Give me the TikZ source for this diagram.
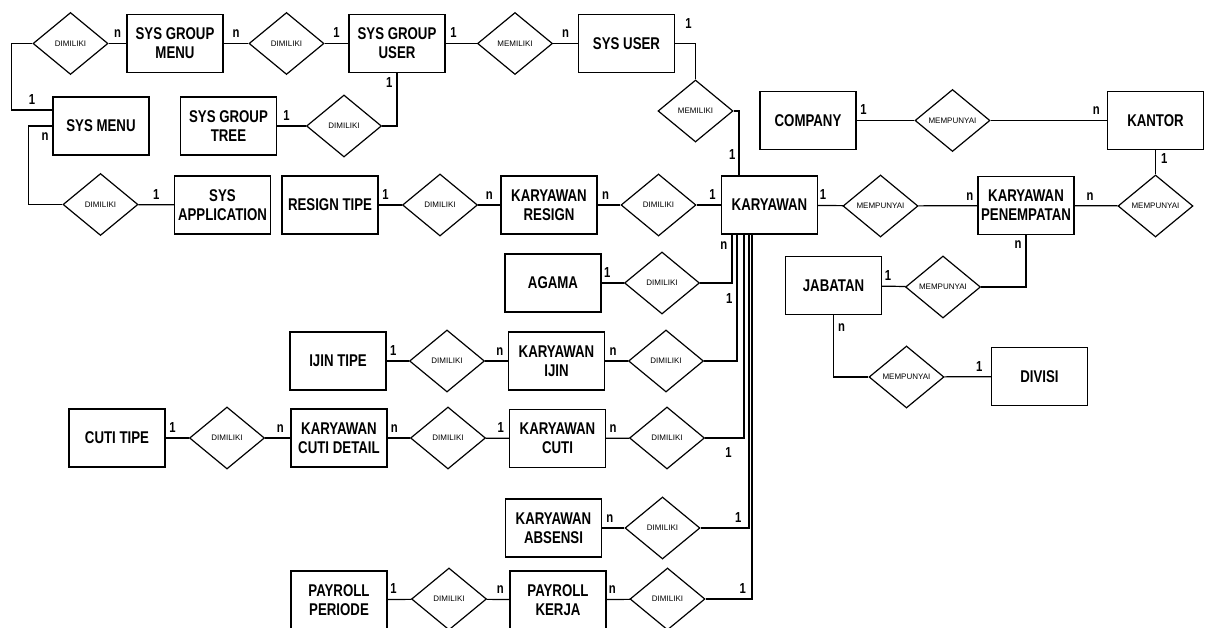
\documentclass[tikz,border=0pt]{standalone}
\usepackage{fontspec}
\setmainfont{Liberation Sans}
\newfontfamily\entfont{Liberation Sans}[FakeStretch=0.78]
\usetikzlibrary{shapes.geometric}
\tikzset{
  entity/.style={draw, rectangle, line width=1.2pt, minimum width=96pt, minimum height=58pt,
    inner sep=1pt, align=center, font=\entfont\bfseries\fontsize{17}{19}\selectfont},
  relation/.style={draw, diamond, line width=1.2pt, minimum width=75pt, minimum height=62pt,
    inner sep=0pt, font=\fontsize{8}{9}\selectfont},
  card/.style={inner sep=1pt, above=4pt, font=\entfont\bfseries\fontsize{14.5}{16}\selectfont},
}
\begin{document}
\begin{tikzpicture}[x=1pt,y=-1pt]
      \useasboundingbox (0,0) rectangle (1205,628);
      % entitas
      \node[entity] (sgm) at (175,43.5) {SYS GROUP\\MENU};
      \node[entity] (sgu) at (397,43.5) {SYS GROUP\\USER};
      \node[entity] (sysuser) at (626.5,43.5) {SYS USER};
      \node[entity] (sysmenu) at (101,126) {SYS MENU};
      \node[entity] (sgt) at (228.5,126) {SYS GROUP\\TREE};
      \node[entity] (sysapp) at (222.5,205) {SYS\\APPLICATION};
      \node[entity] (resigntipe) at (330,205) {RESIGN TIPE};
      \node[entity] (kres) at (549,205) {KARYAWAN\\RESIGN};
      \node[entity] (karyawan) at (769.5,205) {KARYAWAN};
      \node[entity] (kp) at (1026,205.5) {KARYAWAN\\PENEMPATAN};
      \node[entity] (company) at (808,120.5) {COMPANY};
      \node[entity] (kantor) at (1155.5,120.5) {KANTOR};
      \node[entity] (jabatan) at (833.5,285.5) {JABATAN};
      \node[entity] (divisi) at (1039.5,376.5) {DIVISI};
      \node[entity] (agama) at (553,283) {AGAMA};
      \node[entity] (ijintipe) at (338,361) {IJIN TIPE};
      \node[entity] (kij) at (556.5,361) {KARYAWAN\\IJIN};
      \node[entity] (cutitipe) at (117,438) {CUTI TIPE};
      \node[entity] (kcd) at (339,438) {KARYAWAN\\CUTI DETAIL};
      \node[entity] (kc) at (557.5,438.5) {KARYAWAN\\CUTI};
      \node[entity] (kabs) at (553.5,528) {KARYAWAN\\ABSENSI};
      \node[entity] (pp) at (339,600) {PAYROLL\\PERIODE};
      \node[entity] (pk) at (558,600) {PAYROLL\\KERJA};
      % relasi
      \node[relation] (dsm) at (70.5,43.5) {DIMILIKI};
      \node[relation] (dgu) at (286.5,43.5) {DIMILIKI};
      \node[relation] (dmem) at (515,43.5) {MEMILIKI};
      \node[relation] (dmem2) at (695.5,111) {MEMILIKI};
      \node[relation] (dgt) at (344,126) {DIMILIKI};
      \node[relation] (dsa) at (100.5,204.5) {DIMILIKI};
      \node[relation] (dres1) at (440,205) {DIMILIKI};
      \node[relation] (dres2) at (658.5,205) {DIMILIKI};
      \node[relation] (dkp) at (880.5,206) {MEMPUNYAI};
      \node[relation] (dkant) at (1155.5,206) {MEMPUNYAI};
      \node[relation] (dcomp) at (952.5,120.5) {MEMPUNYAI};
      \node[relation] (djab) at (943,287) {MEMPUNYAI};
      \node[relation] (ddiv) at (906.5,377) {MEMPUNYAI};
      \node[relation] (dag) at (662,283) {DIMILIKI};
      \node[relation] (dij1) at (447,361) {DIMILIKI};
      \node[relation] (dij2) at (666,361) {DIMILIKI};
      \node[relation] (dct) at (227,438) {DIMILIKI};
      \node[relation] (dcd) at (448,438) {DIMILIKI};
      \node[relation] (dkc) at (667,438) {DIMILIKI};
      \node[relation] (dabs) at (662.5,528) {DIMILIKI};
      \node[relation] (dpp) at (449,599) {DIMILIKI};
      \node[relation] (dpk) at (667.5,599) {DIMILIKI};
      \begin{scope}[line width=1.2pt]
        % sys
        \draw ([yshift=16pt]sysmenu.west) -| node[card, pos=0.25] {1} ([xshift=-21pt]dsm.west) -- (dsm.west);
        \draw (dsm) -- node[card] {n} (sgm);
        \draw (sgm) -- node[card] {n} (dgu);
        \draw (dgu) -- node[card] {1} (sgu);
        \draw (sgu) -- node[card, pos=0.25] {1} (dmem);
        \draw (dmem) -- node[card] {n} (sysuser);
        \draw (sysuser.east) -| node[card, pos=0.33, above=9.5pt] {1} (dmem2.north);
        \draw (dmem2.east) -| node[card, pos=0.87, left=2pt] {1} ([xshift=-30.5pt]karyawan.north);
        \draw (sysmenu.west) -| node[card, pos=0.15, below=9pt] {n} ([xshift=-34pt]dsa.west) -- (dsa.west);
        \draw (dsa) -- node[card] {1} (sysapp);
        \draw (sgt) -- node[card, pos=0.33] {1} (dgt);
        \draw (dgt.east) -| node[card, pos=0.87, left=3pt] {1} (sgu.south);
        % karyawan
        \draw (resigntipe) -- node[card, pos=0.3] {1} (dres1);
        \draw (dres1) -- node[card] {n} (kres);
        \draw (kres) -- node[card, pos=0.35] {n} (dres2);
        \draw (dres2) -- node[card, pos=0.65] {1} (karyawan);
        \draw (karyawan) -- node[card, pos=0.2] {1} (dkp);
        \draw (dkp) -- node[card, pos=0.87] {n} (kp);
        \draw (kp) -- node[card, pos=0.36] {n} (dkant);
        \draw (kantor) -- node[card, right=4pt] {1} (dkant);
        \draw (company) -- node[card, pos=0.12] {1} (dcomp);
        \draw (dcomp) -- node[card, pos=0.91] {n} (kantor);
        \draw (kp.south) |- node[card, pos=0.13, left=3pt] {n} (djab.east);
        \draw (jabatan) -- node[card, pos=0.25] {1} (djab);
        \draw (jabatan.south) |- node[card, pos=0.13, right=3pt] {n} (ddiv.west);
        \draw (ddiv) -- node[card, pos=0.75] {1} (divisi);
        \draw (agama) -- node[card, pos=0.25] {1} (dag);
        \draw (dag.east) -| node[card, pos=0.85, left=3pt] {n} ([xshift=-37.5pt]karyawan.south);
        \draw (ijintipe) -- node[card, pos=0.3] {1} (dij1);
        \draw (dij1) -- node[card, pos=0.65] {n} (kij);
        \draw (kij) -- node[card, pos=0.35] {n} (dij2);
        \draw (dij2.east) -| node[card, pos=0.73, left=3pt] {1} ([xshift=-32.5pt]karyawan.south);
        \draw (cutitipe) -- node[card, pos=0.3] {1} (dct);
        \draw (dct) -- node[card, pos=0.6] {n} (kcd);
        \draw (kcd) -- node[card, pos=0.3] {n} (dcd);
        \draw (dcd) -- node[card, pos=0.65] {1} (kc);
        \draw (kc) -- node[card, pos=0.3] {n} (dkc);
        \draw (dkc.east) -| node[card, pos=0.3, below=12pt] {1} ([xshift=-25.5pt]karyawan.south);
        \draw (kabs) -- node[card, pos=0.35] {n} (dabs);
        \draw (dabs.east) -| node[card, pos=0.39] {1} ([xshift=-20.5pt]karyawan.south);
        \draw (pp) -- node[card, pos=0.25] {1} (dpp);
        \draw (dpp) -- node[card, pos=0.6] {n} (pk);
        \draw (pk) -- node[card, pos=0.25] {n} (dpk);
        \draw (dpk.east) -| node[card, pos=0.4] {1} ([xshift=-17.5pt]karyawan.south);
      \end{scope}
    \end{tikzpicture}
\end{document}
